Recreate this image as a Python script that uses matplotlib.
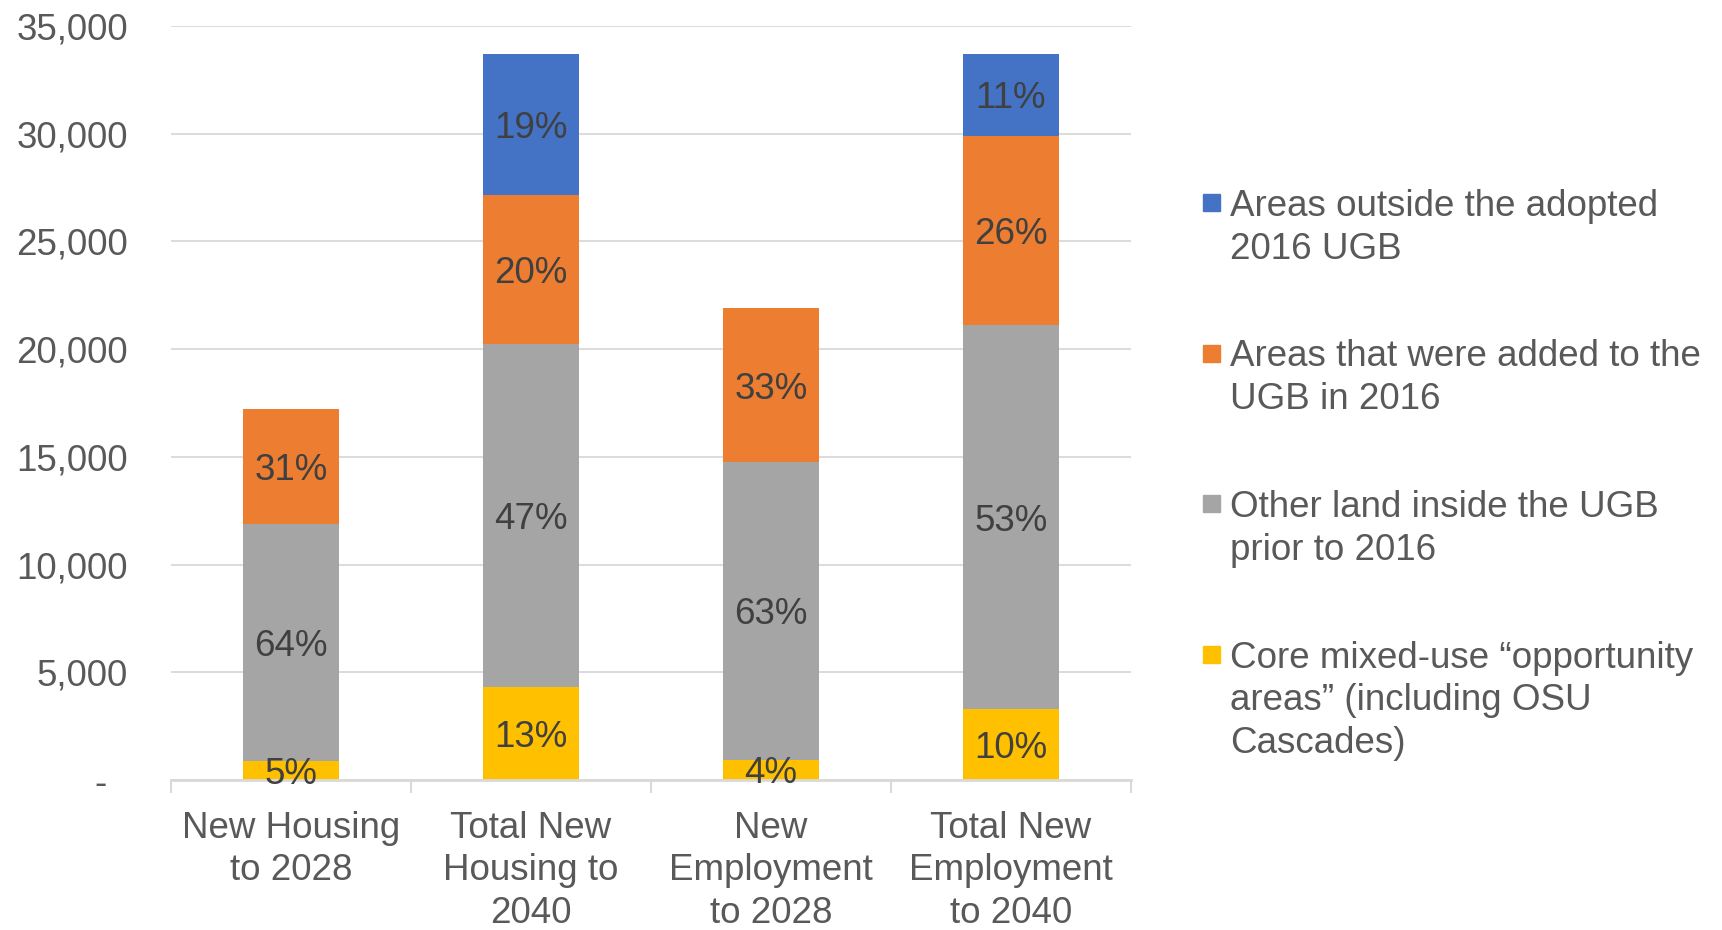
import numpy as np
import matplotlib
matplotlib.use("Agg")
import matplotlib.pyplot as plt
from matplotlib.patches import Rectangle

plt.rcParams["font.family"] = ["Liberation Sans", "DejaVu Sans"]

categories = ["New Housing\nto 2028", "Total New\nHousing to\n2040",
              "New\nEmployment\nto 2028", "Total New\nEmployment\nto 2040"]
series_names = ["Core mixed-use \u201copportunity areas\u201d (including OSU Cascades)",
                "Other land inside the UGB prior to 2016",
                "Areas that were added to the UGB in 2016",
                "Areas outside the adopted 2016 UGB"]
legend_text = ["Areas outside the adopted\n2016 UGB",
               "Areas that were added to the\nUGB in 2016",
               "Other land inside the UGB\nprior to 2016",
               "Core mixed-use \u201copportunity\nareas\u201d (including OSU\nCascades)"]
core = [900, 4300, 950, 3300]
other = [11000, 15950, 13800, 17800]
added = [5300, 6900, 7150, 8800]
outside = [0, 6550, 0, 3800]
yticks = [0, 5000, 10000, 15000, 20000, 25000, 30000, 35000]

colors = ["#FFC000", "#A5A5A5", "#ED7D31", "#4472C4"]
W, H = 1722, 930
fs = 26.5

fig = plt.figure(figsize=(W / 100, H / 100), dpi=100)
ax = fig.add_axes([171 / W, 1 - 780 / H, 960 / W, 754 / H])

x = np.arange(len(categories))
series = [core, other, added, outside]
totals = np.sum(series, axis=0)
bottom = np.zeros(len(categories))
for vals, c in zip(series, colors):
    vals = np.array(vals, dtype=float)
    ax.bar(x, vals, 0.4, bottom=bottom, color=c, zorder=3)
    for xi, v, b, t in zip(x, vals, bottom, totals):
        if v > 0:
            ax.text(xi, b + v / 2, "%d%%" % round(v / t * 100), ha="center",
                    va="center_baseline", fontsize=fs, color="#404040",
                    zorder=6, clip_on=False)
    bottom += vals

ax.set_xlim(-0.5, 3.5)
ax.set_ylim(0, 35000)
ax.set_yticks(yticks)
ax.set_yticklabels(["-  "] + ["{:,}".format(v) for v in yticks[1:]])
ax.set_xticks(x)
ax.set_xticklabels(categories, linespacing=1.28)
ax.set_xticks(np.arange(-0.5, 4, 1), minor=True)
ax.tick_params(axis="y", length=0, pad=31, labelsize=fs, labelcolor="#595959")
ax.tick_params(axis="x", which="major", length=0, pad=22, labelsize=fs,
               labelcolor="#595959")
ax.tick_params(axis="x", which="minor", length=9, width=1.5, color="#D9D9D9")
ax.grid(axis="y", color="#D9D9D9", lw=1.3, zorder=0)
for s in ["left", "right", "top"]:
    ax.spines[s].set_visible(False)
ax.spines["bottom"].set_color("#D9D9D9")
ax.spines["bottom"].set_linewidth(2)
ax.spines["bottom"].set_zorder(4)

# legend drawn by hand so the marker sits on the first line
leg_colors = colors[::-1]
for i, (lab, c) in enumerate(zip(legend_text, leg_colors)):
    yc = 203 + i * 150.5
    fig.patches.append(Rectangle((1203 / W, 1 - (yc + 8.5) / H), 17 / W, 17 / H,
                                 transform=fig.transFigure, color=c))
    fig.text(1230 / W, 1 - (yc - 14) / H, lab, ha="left", va="top",
             fontsize=fs, color="#595959", linespacing=1.28)

fig.savefig("out.png", dpi=100)
